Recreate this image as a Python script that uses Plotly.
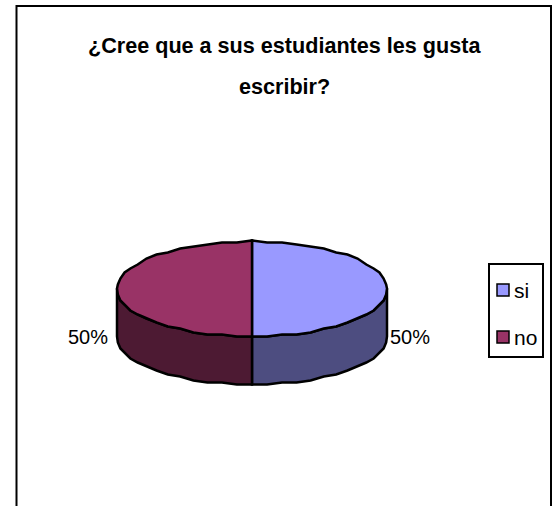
import numpy as np
import plotly.graph_objects as go

title_lines = ["¿Cree que a sus estudiantes les gusta", "escribir?"]
categories = ["si", "no"]
values = [50, 50]
top_colors = ["#9999FF", "#993366"]
side_colors = ["#4D4D80", "#4D1A33"]

CX, CY, RX, RY, DEPTH = 252, 288.5, 135, 47.5, 48
W, H = 556, 506
SEGMENTS_PER_TURN = 56
SNAP = 2


def arc(a0, a1):
    n = max(2, int(round(abs(a1 - a0) / 360 * SEGMENTS_PER_TURN)) + 1)
    t = np.radians(np.linspace(a0, a1, n))
    return CX + RX * np.sin(t), np.round((CY - RY * np.cos(t)) / SNAP) * SNAP + 0.5


fig = go.Figure()
shares = np.array(values) / sum(values) * 360
starts = np.concatenate([[0], np.cumsum(shares)[:-1]])
LINE = dict(color="black", width=2.5)

for start, share, col in zip(starts, shares, side_colors):
    a0, a1 = max(start, 90), min(start + share, 270)
    if a1 <= a0:
        continue
    x, y = arc(a0, a1)
    xs = np.concatenate([x, x[::-1], x[:1]])
    ys = np.concatenate([y, y[::-1] + DEPTH, y[:1]])
    fig.add_trace(go.Scatter(x=xs, y=ys, mode="lines", fill="toself", fillcolor=col,
                             line=LINE, showlegend=False, hoverinfo="skip"))

for start, share, col, name in zip(starts, shares, top_colors, categories):
    x, y = arc(start, start + share)
    xs = np.concatenate([[CX], x, [CX]])
    ys = np.concatenate([[CY], y, [CY]])
    fig.add_trace(go.Scatter(x=xs, y=ys, mode="lines", fill="toself", fillcolor=col,
                             line=LINE, showlegend=False, name=name))

font = "Liberation Sans"
legend_y = [290, 337]
fig.add_trace(go.Scatter(x=[503, 503], y=legend_y, mode="markers", showlegend=False, hoverinfo="skip",
                         marker=dict(symbol="square", size=12, color=top_colors,
                                     line=dict(color="black", width=1.5))))


def label(x, y, text, size, anchor="center"):
    return dict(x=x, y=y, text=text, xref="x", yref="y", showarrow=False,
                xanchor=anchor, yanchor="middle",
                font=dict(size=size, color="black", family=font))


annotations = [
    label(284, 45, f"<b>{title_lines[0]}</b>", 21.6),
    label(284, 86, f"<b>{title_lines[1]}</b>", 21.6),
    label(88, 337, f"{values[1]}%", 20),
    label(410, 337, f"{values[0]}%", 20),
    label(512, legend_y[0], categories[0], 21, "left"),
    label(512, legend_y[1], categories[1], 21, "left"),
]

fig.update_layout(
    width=W, height=H, autosize=False,
    margin=dict(l=0, r=0, t=0, b=0),
    paper_bgcolor="white", plot_bgcolor="white",
    xaxis=dict(range=[0, W], visible=False, fixedrange=True),
    yaxis=dict(range=[H, 0], visible=False, fixedrange=True),
    annotations=annotations,
    showlegend=False,
    shapes=[
        dict(type="rect", xref="x", yref="y", x0=16.5, y0=6, x1=551, y1=510,
             line=dict(color="black", width=2), layer="below"),
        dict(type="rect", xref="x", yref="y", x0=489, y0=264, x1=543, y1=357,
             line=dict(color="black", width=2), layer="below"),
    ],
)
fig.write_html(
    "out.html",
    config={"displayModeBar": False},
    post_script="document.documentElement.style.overflow='hidden';document.body.style.margin='0';",
)
